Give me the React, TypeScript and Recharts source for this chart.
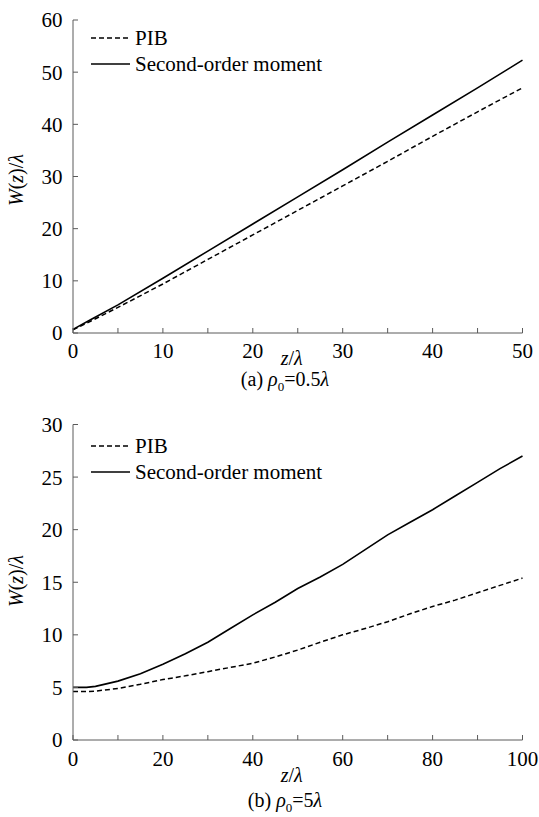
import { LineChart, Line, XAxis, YAxis, Label } from 'recharts';

const FONT = 'Liberation Serif, Times New Roman, Times, serif';

// (a) rho0 = 0.5 lambda
const zA = [0, 2, 5, 10, 15, 20, 25, 30, 35, 40, 45, 50];
const pibA = [0.6, 2.3, 4.9, 9.4, 14.1, 18.8, 23.5, 28.2, 32.9, 37.7, 42.4, 47.0];
const momentA = [0.7, 2.6, 5.4, 10.5, 15.7, 20.9, 26.1, 31.3, 36.6, 41.8, 47.0, 52.3];
const xTicksA = [0, 5, 10, 15, 20, 25, 30, 35, 40, 45, 50];
const yTicksA = [0, 10, 20, 30, 40, 50, 60];

// (b) rho0 = 5 lambda
const zB = [0, 3, 5, 10, 15, 20, 25, 30, 35, 40, 45, 50, 55, 60, 65, 70, 75, 80, 85, 90, 95, 100];
const pibB = [4.6, 4.6, 4.65, 4.9, 5.3, 5.75, 6.1, 6.5, 6.9, 7.3, 7.9, 8.55, 9.3, 10.0, 10.6, 11.25, 12.0, 12.7, 13.3, 14.0, 14.7, 15.4];
const momentB = [5.0, 5.0, 5.1, 5.6, 6.3, 7.2, 8.2, 9.3, 10.6, 11.9, 13.1, 14.4, 15.5, 16.7, 18.1, 19.5, 20.7, 21.9, 23.2, 24.5, 25.8, 27.0];
const xTicksB = [0, 10, 20, 30, 40, 50, 60, 70, 80, 90, 100];
const yTicksB = [0, 5, 10, 15, 20, 25, 30];

const seriesNames = ['PIB', 'Second-order moment'];

const tickStyle = { fontSize: 21, fill: '#000', fontFamily: FONT };
const axisColor = '#5a5a5a';

function YTitle({ cy }: { cy: number }) {
    const cx = 16;
    return (
        <text x={cx} y={cy} transform={`rotate(-90 ${cx} ${cy})`} textAnchor="middle" dominantBaseline="central"
            style={{ fontFamily: FONT }} fontSize={20} fill="#000">
            <tspan fontStyle="italic">W</tspan>(<tspan fontStyle="italic">z</tspan>)/<tspan fontStyle="italic">λ</tspan>
        </text>
    );
}

function XTitle({ viewBox, dy }: any) {
    const cx = viewBox.x + viewBox.width / 2 - 6;
    return (
        <text x={cx} y={viewBox.y + dy} textAnchor="middle" dominantBaseline="central"
            style={{ fontFamily: FONT }} fontSize={20} fill="#000">
            <tspan fontStyle="italic">z</tspan>/<tspan fontStyle="italic">λ</tspan>
        </text>
    );
}

function LegendBox({ top }: { top: number }) {
    return (
        <div style={{ position: 'absolute', top, left: 91, fontFamily: FONT, fontSize: 21, color: '#000', lineHeight: '26px' }}>
            {seriesNames.map((name, i) => (
                <div key={name} style={{ display: 'flex', alignItems: 'center' }}>
                    <svg width={39} height={10} style={{ marginRight: 5 }}>
                        <line x1={0} y1={5} x2={39} y2={5} stroke="#000" strokeWidth={1.5}
                            strokeDasharray={i === 0 ? '5 3' : undefined} />
                    </svg>
                    <span>{name}</span>
                </div>
            ))}
        </div>
    );
}

function Panel({ z, pib, moment, xTicks, yTicks, xMax, yMax, height, top, bottom, legendTop, xTickGap, titleDy, yTitleY, labelEvery }: any) {
    const data = z.map((v: number, i: number) => ({ z: v, pib: pib[i], moment: moment[i] }));
    return (
        <div style={{ position: 'relative', width: 539, height }}>
            <LineChart width={539} height={height} data={data} margin={{ top, right: 16.5, left: 0, bottom: 0 }}
                style={{ fontFamily: FONT }}>
                <XAxis dataKey="z" type="number" domain={[0, xMax]} ticks={xTicks} interval={0}
                    tickFormatter={(v: number) => (v % labelEvery !== 0 ? '' : String(v))}
                    height={bottom} tickSize={-5} tickMargin={xTickGap} tick={tickStyle}
                    stroke={axisColor} tickLine={{ stroke: axisColor }}>
                    <Label content={<XTitle dy={titleDy} />} />
                </XAxis>
                <YAxis type="number" domain={[0, yMax]} ticks={yTicks} interval={0} width={73}
                    tickSize={-5} tickMargin={15.5} tick={tickStyle}
                    stroke={axisColor} tickLine={{ stroke: axisColor }}>
                    <Label content={<YTitle cy={yTitleY} />} />
                </YAxis>
                <Line dataKey="pib" name="PIB" stroke="#000" strokeWidth={1.5} strokeDasharray="5 3"
                    dot={false} isAnimationActive={false} type="linear" />
                <Line dataKey="moment" name="Second-order moment" stroke="#000" strokeWidth={1.6}
                    dot={false} isAnimationActive={false} type="linear" />
            </LineChart>
            <LegendBox top={legendTop} />
        </div>
    );
}

function Caption({ top, letter, value }: { top: number; letter: string; value: string }) {
    return (
        <div style={{ position: 'absolute', top, left: 60, width: 450, textAlign: 'center', fontFamily: FONT, fontSize: 20, color: '#000', lineHeight: '20px' }}>
            ({letter}) <i>ρ</i><sub style={{ fontSize: 13, lineHeight: 0 }}>0</sub>={value}<i>λ</i>
        </div>
    );
}

export default function App() {
    return (
        <div style={{ position: 'absolute', left: 0, top: 0, width: 539, height: 817, background: '#fff', overflow: 'hidden' }}>
            <div style={{ position: 'absolute', left: 0, top: 0 }}>
                <Panel z={zA} pib={pibA} moment={momentA} xTicks={xTicksA} yTicks={yTicksA}
                    xMax={50} yMax={60} height={400} top={20} bottom={67} legendTop={25}
                    xTickGap={15} titleDy={25} yTitleY={180} labelEvery={10} />
            </div>
            <Caption top={369} letter="a" value="0.5" />
            <div style={{ position: 'absolute', left: 0, top: 400 }}>
                <Panel z={zB} pib={pibB} moment={momentB} xTicks={xTicksB} yTicks={yTicksB}
                    xMax={100} yMax={30} height={417} top={24.5} bottom={77} legendTop={33}
                    xTickGap={16} titleDy={35} yTitleY={181} labelEvery={20} />
            </div>
            <Caption top={790} letter="b" value="5" />
        </div>
    );
}
